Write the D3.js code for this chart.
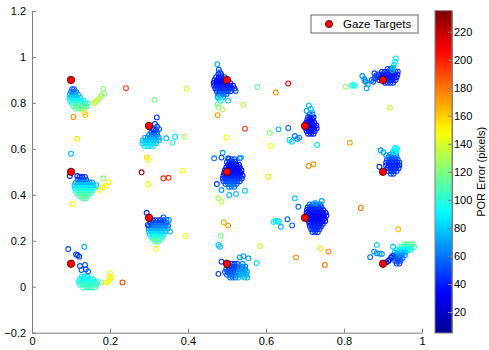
<!DOCTYPE html>
<html><head><meta charset="utf-8">
<script src="https://cdn.jsdelivr.net/npm/d3@7"></script>
<style>
body{margin:0;background:#fff}
svg{display:block;font-family:"Liberation Sans",Arial,Helvetica,sans-serif}
</style>
</head><body>
<svg id="chart" width="489" height="350"></svg>
<script>
// Calibration targets shown on screen (normalised coordinates)
const targetX = [0.1, 0.1, 0.1, 0.3, 0.3, 0.5, 0.5, 0.5, 0.7, 0.7, 0.9, 0.9, 0.9];
const targetY = [0.9, 0.5, 0.1, 0.7, 0.3, 0.9, 0.5, 0.1, 0.7, 0.3, 0.9, 0.5, 0.1];

// Dense point-of-regard samples, one band per row: [y, error(px), x, x, ...]
const denseRows = [
  // target (0.1, 0.9)
  [0.860, 55, 0.103, 0.108],
  [0.848, 60, 0.100, 0.107, 0.113],
  [0.836, 70, 0.097, 0.104, 0.111, 0.118],
  [0.823, 80, 0.096, 0.103, 0.110, 0.117, 0.124],
  [0.810, 90, 0.098, 0.105, 0.112, 0.119, 0.126, 0.133],
  [0.798, 100, 0.102, 0.109, 0.116, 0.123, 0.130, 0.137, 0.143],
  [0.786, 110, 0.106, 0.113, 0.120, 0.127, 0.134, 0.140],
  [0.775, 116, 0.112, 0.119, 0.126, 0.133],
  // target (0.3, 0.7)
  [0.685, 45, 0.312, 0.318],
  [0.673, 50, 0.306, 0.313, 0.320],
  [0.661, 58, 0.300, 0.307, 0.314, 0.321],
  [0.649, 68, 0.290, 0.297, 0.304, 0.311, 0.318, 0.325],
  [0.637, 75, 0.284, 0.291, 0.298, 0.305, 0.312, 0.319, 0.326],
  [0.625, 80, 0.283, 0.290, 0.297, 0.304, 0.311, 0.318],
  [0.613, 86, 0.289, 0.296, 0.303, 0.310],
  // target (0.5, 0.9)
  [0.925, 45, 0.478, 0.485],
  [0.912, 40, 0.472, 0.479, 0.486, 0.493],
  [0.899, 38, 0.468, 0.475, 0.482, 0.489, 0.496],
  [0.887, 35, 0.466, 0.473, 0.480, 0.487, 0.494, 0.501, 0.508],
  [0.875, 38, 0.467, 0.474, 0.481, 0.488, 0.495, 0.502, 0.509, 0.516],
  [0.863, 40, 0.470, 0.477, 0.484, 0.491, 0.498, 0.505, 0.512, 0.519],
  [0.851, 45, 0.474, 0.481, 0.488, 0.495, 0.502, 0.509],
  [0.839, 55, 0.478, 0.485, 0.492, 0.499],
  [0.827, 65, 0.476, 0.483, 0.490],
  // target (0.7, 0.7)
  [0.750, 45, 0.712, 0.719],
  [0.738, 40, 0.708, 0.715, 0.722],
  [0.726, 38, 0.706, 0.713, 0.720],
  [0.714, 35, 0.703, 0.710, 0.717, 0.724],
  [0.702, 35, 0.701, 0.708, 0.715, 0.722, 0.729],
  [0.690, 35, 0.702, 0.709, 0.716, 0.723, 0.730],
  [0.678, 38, 0.704, 0.711, 0.718, 0.725],
  [0.666, 40, 0.708, 0.715, 0.722],
  // target (0.9, 0.9)
  [0.948, 52, 0.912, 0.919, 0.926],
  [0.936, 45, 0.897, 0.904, 0.911, 0.918, 0.925, 0.932, 0.938],
  [0.924, 40, 0.888, 0.895, 0.902, 0.909, 0.916, 0.923, 0.930, 0.937],
  [0.912, 38, 0.886, 0.893, 0.900, 0.907, 0.914, 0.921, 0.928, 0.935],
  [0.900, 40, 0.890, 0.897, 0.904, 0.911, 0.918, 0.925, 0.932],
  [0.888, 45, 0.905, 0.912, 0.919, 0.926],
  // target (0.9, 0.5)
  [0.600, 90, 0.930, 0.936],
  [0.588, 80, 0.926, 0.933],
  [0.576, 70, 0.919, 0.926, 0.933],
  [0.564, 60, 0.914, 0.921, 0.928, 0.935],
  [0.552, 50, 0.910, 0.917, 0.924, 0.931, 0.938],
  [0.540, 45, 0.908, 0.915, 0.922, 0.929, 0.936, 0.942],
  [0.528, 42, 0.908, 0.915, 0.922, 0.929, 0.936, 0.942],
  [0.516, 42, 0.912, 0.919, 0.926, 0.933, 0.940],
  [0.504, 45, 0.914, 0.921, 0.928, 0.935],
  [0.492, 50, 0.920, 0.927],
  // target (0.1, 0.5)
  [0.478, 40, 0.122, 0.129, 0.136],
  [0.466, 50, 0.118, 0.125, 0.132, 0.139],
  [0.454, 65, 0.112, 0.119, 0.126, 0.133, 0.140, 0.147, 0.154],
  [0.442, 78, 0.109, 0.116, 0.123, 0.130, 0.137, 0.144, 0.151, 0.158, 0.165],
  [0.430, 88, 0.110, 0.117, 0.124, 0.131, 0.138, 0.145, 0.152, 0.159],
  [0.418, 98, 0.112, 0.119, 0.126, 0.133, 0.140, 0.147, 0.154],
  [0.406, 105, 0.116, 0.123, 0.130, 0.137, 0.144, 0.151],
  [0.394, 110, 0.122, 0.129, 0.136, 0.143],
  [0.384, 112, 0.131, 0.138],
  // target (0.3, 0.3)
  [0.290, 45, 0.309, 0.316, 0.323, 0.330, 0.337],
  [0.278, 50, 0.303, 0.310, 0.317, 0.324, 0.331, 0.338, 0.345],
  [0.266, 58, 0.300, 0.307, 0.314, 0.321, 0.328, 0.335, 0.342, 0.349],
  [0.254, 66, 0.299, 0.306, 0.313, 0.320, 0.327, 0.334, 0.341, 0.348],
  [0.242, 75, 0.300, 0.307, 0.314, 0.321, 0.328, 0.335, 0.342],
  [0.230, 85, 0.302, 0.309, 0.316, 0.323, 0.330, 0.337],
  [0.218, 95, 0.306, 0.313, 0.320, 0.327, 0.334],
  [0.206, 105, 0.310, 0.317, 0.324, 0.331],
  [0.196, 112, 0.316, 0.323],
  // target (0.1, 0.1)
  [0.045, 85, 0.128, 0.135, 0.142],
  [0.033, 92, 0.122, 0.129, 0.136, 0.143, 0.150, 0.157],
  [0.021, 98, 0.120, 0.127, 0.134, 0.141, 0.148, 0.155, 0.162, 0.168],
  [0.009, 102, 0.123, 0.130, 0.137, 0.144, 0.151, 0.158, 0.165],
  [-0.003, 105, 0.132, 0.139, 0.146, 0.153, 0.160],
  // target (0.5, 0.5)
  [0.555, 50, 0.505, 0.512, 0.519],
  [0.543, 45, 0.500, 0.507, 0.514, 0.521],
  [0.531, 40, 0.503, 0.510, 0.517, 0.524, 0.531],
  [0.519, 38, 0.498, 0.505, 0.512, 0.519, 0.526, 0.533],
  [0.507, 35, 0.495, 0.502, 0.509, 0.516, 0.523, 0.530, 0.537],
  [0.495, 35, 0.493, 0.500, 0.507, 0.514, 0.521, 0.528, 0.535],
  [0.483, 38, 0.491, 0.498, 0.505, 0.512, 0.519, 0.526, 0.533, 0.540],
  [0.471, 42, 0.489, 0.496, 0.503, 0.510, 0.517, 0.524, 0.531, 0.538],
  [0.459, 48, 0.491, 0.498, 0.505, 0.512, 0.519, 0.526, 0.533],
  [0.447, 55, 0.496, 0.503, 0.510, 0.517, 0.524],
  [0.435, 62, 0.505, 0.512, 0.519],
  // target (0.5, 0.1)
  [0.100, 48, 0.512, 0.519, 0.526],
  [0.100, 68, 0.540],
  [0.088, 48, 0.505, 0.512, 0.519, 0.526],
  [0.088, 65, 0.533, 0.540, 0.547],
  [0.076, 50, 0.498, 0.505, 0.512, 0.519, 0.526],
  [0.076, 65, 0.533, 0.540, 0.547],
  [0.064, 52, 0.495, 0.502, 0.509, 0.516, 0.523],
  [0.064, 68, 0.530, 0.537, 0.544, 0.551],
  [0.052, 55, 0.500, 0.507, 0.514, 0.521],
  [0.052, 72, 0.528, 0.535, 0.542, 0.550],
  [0.040, 60, 0.508, 0.515, 0.522],
  [0.040, 75, 0.529, 0.545, 0.552],
  // target (0.7, 0.3)
  [0.358, 60, 0.712, 0.719, 0.726, 0.733, 0.740],
  [0.346, 50, 0.707, 0.714, 0.721, 0.728, 0.735, 0.742],
  [0.334, 42, 0.705, 0.712, 0.719, 0.726, 0.733, 0.740, 0.747],
  [0.322, 38, 0.704, 0.711, 0.718, 0.725, 0.732, 0.739, 0.746, 0.753],
  [0.310, 36, 0.706, 0.713, 0.720, 0.727, 0.734, 0.741, 0.748, 0.755],
  [0.298, 35, 0.708, 0.715, 0.722, 0.729, 0.736, 0.743, 0.750],
  [0.286, 35, 0.710, 0.717, 0.724, 0.731, 0.738, 0.745, 0.752],
  [0.274, 38, 0.711, 0.718, 0.725, 0.732, 0.739, 0.746],
  [0.262, 40, 0.713, 0.720, 0.727, 0.734, 0.741],
  [0.250, 42, 0.716, 0.723, 0.730, 0.737],
  [0.238, 45, 0.719, 0.726, 0.733],
  // target (0.9, 0.1)
  [0.185, 115, 0.955, 0.962, 0.969, 0.976],
  [0.173, 105, 0.945, 0.952, 0.959, 0.966, 0.973, 0.980],
  [0.161, 90, 0.935, 0.942, 0.949, 0.956, 0.963, 0.970],
  [0.149, 78, 0.930, 0.937, 0.944, 0.951, 0.958],
  [0.137, 68, 0.928, 0.935, 0.942, 0.949, 0.956],
  [0.125, 60, 0.929, 0.936, 0.943, 0.950],
  [0.113, 52, 0.931, 0.938, 0.945],
  [0.101, 48, 0.935, 0.942]
];

// Scattered samples: [x, y, error(px)]
const sparsePoints = [
  [0.183, 0.861, 122], [0.185, 0.840, 120], [0.178, 0.831, 128], [0.173, 0.820, 130],
  [0.167, 0.811, 132], [0.163, 0.805, 135], [0.160, 0.800, 135],
  [0.106, 0.739, 175], [0.134, 0.759, 158], [0.137, 0.747, 160], [0.241, 0.864, 192],
  [0.116, 0.644, 155], [0.100, 0.579, 75], [0.314, 0.814, 118], [0.397, 0.862, 138],

  [0.320, 0.737, 45], [0.315, 0.708, 48], [0.321, 0.696, 50], [0.326, 0.686, 52], [0.311, 0.682, 45],
  [0.344, 0.646, 75], [0.367, 0.653, 85], [0.360, 0.627, 100], [0.391, 0.653, 130],
  [0.294, 0.563, 155], [0.298, 0.554, 152], [0.281, 0.498, 225], [0.337, 0.472, 195],
  [0.350, 0.474, 195], [0.386, 0.505, 150], [0.298, 0.446, 150],

  [0.475, 0.969, 72], [0.479, 0.945, 50], [0.482, 0.933, 48],
  [0.478, 0.820, 85], [0.484, 0.810, 95], [0.476, 0.795, 112], [0.478, 0.781, 125],
  [0.489, 0.772, 130], [0.476, 0.747, 172], [0.522, 0.852, 50], [0.503, 0.810, 75],
  [0.499, 0.650, 150], [0.542, 0.792, 132], [0.546, 0.688, 195],

  [0.710, 0.788, 75], [0.715, 0.774, 80], [0.704, 0.765, 70], [0.719, 0.759, 78],
  [0.657, 0.691, 55], [0.674, 0.656, 60], [0.685, 0.649, 62], [0.680, 0.643, 65],
  [0.660, 0.639, 80], [0.666, 0.631, 82], [0.632, 0.685, 75], [0.610, 0.670, 120],
  [0.613, 0.613, 150], [0.578, 0.869, 115], [0.625, 0.845, 175], [0.657, 0.885, 205],
  [0.731, 0.617, 85], [0.709, 0.526, 175], [0.722, 0.533, 172],

  [0.933, 0.994, 88], [0.931, 0.979, 88], [0.928, 0.965, 85], [0.926, 0.953, 80], [0.924, 0.943, 75],
  [0.878, 0.929, 48], [0.882, 0.918, 50], [0.871, 0.900, 52], [0.875, 0.892, 55], [0.878, 0.907, 48],
  [0.847, 0.917, 65], [0.852, 0.904, 68], [0.856, 0.892, 70], [0.861, 0.881, 68],
  [0.858, 0.864, 70], [0.854, 0.895, 65],
  [0.804, 0.871, 125], [0.820, 0.875, 98], [0.824, 0.878, 96], [0.828, 0.875, 95],
  [0.918, 0.779, 135], [0.815, 0.627, 170],

  [0.932, 0.605, 95], [0.935, 0.595, 95], [0.929, 0.585, 92], [0.894, 0.594, 70],
  [0.901, 0.585, 72], [0.908, 0.573, 68], [0.891, 0.522, 45],

  [0.116, 0.482, 40], [0.097, 0.482, 40], [0.183, 0.472, 120], [0.196, 0.455, 150],
  [0.190, 0.440, 152], [0.183, 0.433, 150], [0.174, 0.421, 148], [0.104, 0.360, 150],

  [0.294, 0.322, 45], [0.297, 0.269, 45], [0.337, 0.302, 55], [0.345, 0.291, 60],
  [0.351, 0.291, 65], [0.354, 0.240, 75], [0.318, 0.166, 150], [0.393, 0.221, 150],

  [0.093, 0.164, 50], [0.134, 0.174, 75], [0.113, 0.141, 45], [0.117, 0.137, 45],
  [0.121, 0.131, 48], [0.123, 0.090, 50], [0.127, 0.073, 52], [0.136, 0.095, 50],
  [0.138, 0.076, 52], [0.144, 0.066, 55], [0.177, 0.019, 120], [0.200, 0.059, 145],
  [0.203, 0.044, 150], [0.200, 0.034, 152], [0.196, 0.025, 150], [0.192, 0.019, 150],
  [0.232, 0.019, 190],

  [0.489, 0.583, 70], [0.486, 0.562, 50], [0.503, 0.559, 50], [0.533, 0.559, 55],
  [0.467, 0.559, 60], [0.474, 0.447, 45], [0.486, 0.421, 70], [0.506, 0.399, 75],
  [0.523, 0.404, 78], [0.546, 0.418, 80], [0.478, 0.385, 130], [0.486, 0.370, 132],
  [0.492, 0.280, 170], [0.503, 0.266, 172], [0.484, 0.222, 120], [0.478, 0.182, 75],
  [0.482, 0.174, 78], [0.606, 0.479, 155], [0.536, 0.562, 75],

  [0.486, 0.109, 45], [0.478, 0.056, 45], [0.533, 0.128, 65], [0.555, 0.124, 70],
  [0.542, 0.133, 70], [0.576, 0.103, 85], [0.585, 0.177, 135],

  [0.674, 0.385, 80], [0.683, 0.348, 58], [0.619, 0.282, 88], [0.625, 0.286, 85],
  [0.630, 0.286, 85], [0.633, 0.283, 88], [0.638, 0.261, 75], [0.655, 0.294, 55],
  [0.667, 0.267, 55], [0.743, 0.373, 70], [0.726, 0.365, 72],
  [0.677, 0.128, 175], [0.740, 0.167, 155], [0.760, 0.153, 175], [0.751, 0.095, 180],
  [0.843, 0.343, 180], [0.939, 0.250, 165],

  [0.909, 0.107, 38], [0.916, 0.117, 40], [0.921, 0.127, 42], [0.924, 0.134, 45],
  [0.914, 0.112, 40], [0.867, 0.129, 55], [0.877, 0.153, 65], [0.884, 0.146, 65],
  [0.891, 0.144, 68], [0.897, 0.143, 65], [0.884, 0.182, 80], [0.926, 0.174, 80]
];

const xTicks = [0, 0.2, 0.4, 0.6, 0.8, 1];
const yTicks = [-0.2, 0, 0.2, 0.4, 0.6, 0.8, 1, 1.2];
const colorTicks = [20, 40, 60, 80, 100, 120, 140, 160, 180, 200, 220];
const errorRange = [5, 235];
const legendLabel = "Gaze Targets";
const colorbarTitle = "POR Error (pixels)";

const svg = d3.select("#chart");
const axisGrey = "#808080";

const x = d3.scaleLinear().domain([0, 1]).range([32, 422]);
const y = d3.scaleLinear().domain([-0.2, 1.2]).range([332.7, 11]);

// jet colour map over the error range
const jetStops = [0, 0.125, 0.375, 0.625, 0.875, 1];
const color = d3.scaleLinear()
  .domain(jetStops.map(t => errorRange[0] + t * (errorRange[1] - errorRange[0])))
  .range(["#00008f", "#0000ff", "#00ffff", "#ffff00", "#ff0000", "#800000"])
  .clamp(true);

const fmt = d => d3.format("")(+d.toFixed(1));

// axes (left + bottom, ticks pointing inward)
const gx = svg.append("g").attr("transform", `translate(0,${y(-0.2)})`)
  .call(d3.axisBottom(x).tickValues(xTicks).tickFormat(fmt).tickSizeInner(-4).tickSizeOuter(0).tickPadding(5));
const gy = svg.append("g").attr("transform", `translate(${x(0)},0)`)
  .call(d3.axisLeft(y).tickValues(yTicks).tickFormat(fmt).tickSizeInner(-4).tickSizeOuter(0).tickPadding(6));
[gx, gy].forEach(g => {
  g.select(".domain").attr("stroke", axisGrey);
  g.selectAll(".tick line").attr("stroke", axisGrey);
  g.selectAll(".tick text").attr("fill", "#000").style("font-size", "11px")
    .style("font-family", "'Liberation Sans', Arial, sans-serif");
});

// flatten dense bands into points
const densePoints = denseRows.flatMap(([yy, e, ...xs]) => xs.map(xx => [xx, yy, e]));
const samples = densePoints.concat(sparsePoints);

svg.append("g").selectAll("circle").data(samples).join("circle")
  .attr("cx", d => x(d[0])).attr("cy", d => y(d[1])).attr("r", 2.4)
  .attr("fill", "none").attr("stroke", d => color(d[2])).attr("stroke-width", 1.1);

// targets
svg.append("g").selectAll("circle").data(targetX).join("circle")
  .attr("cx", d => x(d)).attr("cy", (d, i) => y(targetY[i])).attr("r", 3.7)
  .attr("fill", "#ff0000").attr("stroke", "#3a0000").attr("stroke-width", 0.8);

// legend
const lg = svg.append("g");
lg.append("rect").attr("x", 311).attr("y", 15).attr("width", 107).attr("height", 18)
  .attr("fill", "#fff").attr("stroke", "#666").attr("stroke-width", 1);
lg.append("circle").attr("cx", 329).attr("cy", 24).attr("r", 3.6)
  .attr("fill", "#ff0000").attr("stroke", "#3a0000").attr("stroke-width", 0.8);
lg.append("text").attr("x", 343).attr("y", 28.3).text(legendLabel)
  .style("font-size", "11.5px").attr("fill", "#000");

// colour bar
const cb = { x: 435, w: 17, top: 10.7, bottom: 333 };
const cy = d3.scaleLinear().domain(errorRange).range([cb.bottom, cb.top]);
const grad = svg.append("defs").append("linearGradient").attr("id", "jet")
  .attr("x1", 0).attr("y1", 1).attr("x2", 0).attr("y2", 0);
d3.range(0, 1.0001, 0.02).forEach(t => {
  grad.append("stop").attr("offset", t)
    .attr("stop-color", color(errorRange[0] + t * (errorRange[1] - errorRange[0])));
});
svg.append("rect").attr("x", cb.x).attr("y", cb.top).attr("width", cb.w)
  .attr("height", cb.bottom - cb.top).attr("fill", "url(#jet)")
  .attr("stroke", axisGrey).attr("stroke-width", 1);
const gc = svg.append("g").attr("transform", `translate(${cb.x + cb.w},0)`)
  .call(d3.axisRight(cy).tickValues(colorTicks).tickSizeInner(-4).tickSizeOuter(0).tickPadding(2));
gc.select(".domain").attr("stroke", axisGrey);
gc.selectAll(".tick line").attr("stroke", axisGrey);
gc.selectAll(".tick text").attr("fill", "#000").style("font-size", "11px")
  .style("font-family", "'Liberation Sans', Arial, sans-serif");

svg.append("text").attr("transform", `translate(485,${(cb.top + cb.bottom) / 2}) rotate(-90)`)
  .attr("text-anchor", "middle").style("font-size", "11px").attr("fill", "#000")
  .text(colorbarTitle);
</script>
</body></html>
